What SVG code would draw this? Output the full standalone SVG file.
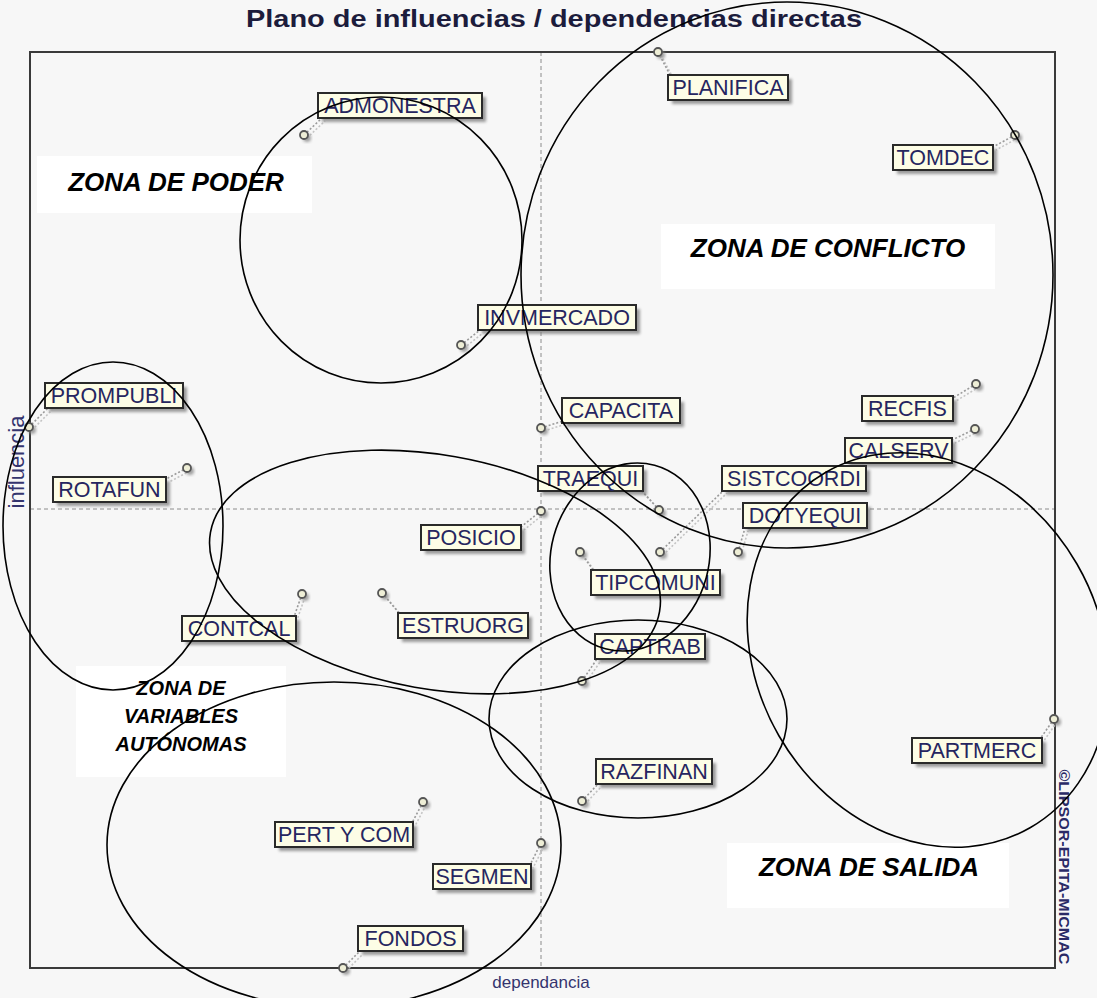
<svg xmlns="http://www.w3.org/2000/svg" width="1097" height="998" viewBox="0 0 1097 998">
  <defs>
    <filter id="soft" x="-20%" y="-20%" width="140%" height="140%">
      <feGaussianBlur stdDeviation="1.4"/>
    </filter>
  </defs>
  <style>
    .title { font-family: "Liberation Sans", Arial, sans-serif; font-size: 23px; font-weight: bold; fill: #1c1c3c; }
    .axis-lbl { font-family: "Liberation Sans", Arial, sans-serif; font-size: 17px; fill: #34346e; }
    .axis-lbl-v { font-family: "Liberation Sans", Arial, sans-serif; font-size: 22px; fill: #34346e; }
    .copy { font-family: "Liberation Sans", Arial, sans-serif; font-size: 15px; font-weight: bold; fill: #2a2a66; }
    .frame { fill: none; stroke: #3a3a3a; stroke-width: 2; }
    .axis { stroke: #8c8c8c; stroke-width: 1; stroke-dasharray: 4 3; }
    .zone-bg { fill: #ffffff; }
    .zone { font-family: "Liberation Sans", Arial, sans-serif; font-weight: bold; font-style: italic; fill: #000; text-anchor: middle; }
    .zone-big { font-size: 26px; }
    .zone-small { font-size: 20px; }
    .ring { fill: none; stroke: #000; stroke-width: 1.6; }
    .box { fill: #fdfde6; stroke: #2a2a2a; stroke-width: 2; }
    .box-sh { fill: #7a7a7a; opacity: 0.75; filter: url(#soft); }
    .lbl { font-family: "Liberation Sans", Arial, sans-serif; font-size: 21.5px; fill: #262660; text-anchor: middle; }
    .pt { fill: #eeeed6; stroke: #555; stroke-width: 1.8; }
    .pt-sh { fill: #8a8a8a; opacity: 0.8; filter: url(#soft); }
    .lead { stroke: #9a9a9a; stroke-width: 1.6; stroke-dasharray: 2 2; fill: none; }
    .lead-sh { stroke: #c4c4c4; stroke-width: 1.6; stroke-dasharray: 2 2; fill: none; }
  </style>

  <!-- page background -->
  <rect x="0" y="0" width="1097" height="998" fill="#f7f7f7"/>

  <!-- title and axis captions -->
  <text class="title" x="246" y="27" textLength="616" lengthAdjust="spacingAndGlyphs">Plano de influencias / dependencias directas</text>
  <text class="axis-lbl" x="541" y="988" text-anchor="middle">dependancia</text>
  <text class="axis-lbl-v" x="0" y="0" text-anchor="middle" transform="translate(24,462) rotate(-90)">influencia</text>
  <text class="copy" x="0" y="0" text-anchor="middle" transform="translate(1059,867) rotate(90)" textLength="195" lengthAdjust="spacingAndGlyphs">©LIPSOR-EPITA-MICMAC</text>

  <!-- plot frame and median axes -->
  <g id="plot">
    <line class="axis" x1="541" y1="52" x2="541" y2="968"/>
    <line class="axis" x1="30" y1="509" x2="1055" y2="509"/>
    <rect class="frame" x="30" y="52" width="1025" height="916"/>
  </g>

  <!-- zone captions -->
  <g id="zone-labels">
    <rect class="zone-bg" x="37" y="156" width="275" height="57"/>
    <text class="zone zone-big" x="176" y="191">ZONA DE PODER</text>
    <rect class="zone-bg" x="661" y="224" width="334" height="65"/>
    <text class="zone zone-big" x="828" y="257">ZONA DE CONFLICTO</text>
    <rect class="zone-bg" x="727" y="843" width="282" height="65"/>
    <text class="zone zone-big" x="869" y="876">ZONA DE SALIDA</text>
    <rect class="zone-bg" x="76" y="666" width="210" height="111"/>
    <text class="zone zone-small" x="181" y="695">ZONA DE</text>
    <text class="zone zone-small" x="181" y="723">VARIABLES</text>
    <text class="zone zone-small" x="181" y="751">AUTÓNOMAS</text>
  </g>

  <!-- dotted leaders from each variable's point to its tag -->
  <g id="connectors">
    <g class="lead-sh" transform="translate(3,3)">
      <line x1="658" y1="52" x2="670" y2="75"/>
      <line x1="304" y1="135" x2="322" y2="118"/>
      <line x1="1015" y1="135" x2="993" y2="147"/>
      <line x1="461" y1="345" x2="480" y2="330"/>
      <line x1="29" y1="427" x2="48" y2="408"/>
      <line x1="976" y1="384" x2="953" y2="398"/>
      <line x1="541" y1="428" x2="563" y2="421"/>
      <line x1="975" y1="429" x2="952" y2="440"/>
      <line x1="187" y1="468" x2="166" y2="479"/>
      <line x1="659" y1="510" x2="641" y2="490"/>
      <line x1="660" y1="552" x2="724" y2="490"/>
      <line x1="738" y1="552" x2="745" y2="528"/>
      <line x1="541" y1="511" x2="521" y2="527"/>
      <line x1="580" y1="552" x2="594" y2="571"/>
      <line x1="302" y1="594" x2="294" y2="617"/>
      <line x1="382" y1="593" x2="400" y2="614"/>
      <line x1="582" y1="681" x2="597" y2="659"/>
      <line x1="1054" y1="719" x2="1040" y2="739"/>
      <line x1="582" y1="801" x2="598" y2="784"/>
      <line x1="423" y1="802" x2="412" y2="823"/>
      <line x1="541" y1="843" x2="530" y2="865"/>
      <line x1="343" y1="968" x2="360" y2="951"/>
    </g>
    <g class="lead">
      <line x1="658" y1="52" x2="670" y2="75"/>
      <line x1="304" y1="135" x2="322" y2="118"/>
      <line x1="1015" y1="135" x2="993" y2="147"/>
      <line x1="461" y1="345" x2="480" y2="330"/>
      <line x1="29" y1="427" x2="48" y2="408"/>
      <line x1="976" y1="384" x2="953" y2="398"/>
      <line x1="541" y1="428" x2="563" y2="421"/>
      <line x1="975" y1="429" x2="952" y2="440"/>
      <line x1="187" y1="468" x2="166" y2="479"/>
      <line x1="659" y1="510" x2="641" y2="490"/>
      <line x1="660" y1="552" x2="724" y2="490"/>
      <line x1="738" y1="552" x2="745" y2="528"/>
      <line x1="541" y1="511" x2="521" y2="527"/>
      <line x1="580" y1="552" x2="594" y2="571"/>
      <line x1="302" y1="594" x2="294" y2="617"/>
      <line x1="382" y1="593" x2="400" y2="614"/>
      <line x1="582" y1="681" x2="597" y2="659"/>
      <line x1="1054" y1="719" x2="1040" y2="739"/>
      <line x1="582" y1="801" x2="598" y2="784"/>
      <line x1="423" y1="802" x2="412" y2="823"/>
      <line x1="541" y1="843" x2="530" y2="865"/>
      <line x1="343" y1="968" x2="360" y2="951"/>
    </g>
  </g>

  <!-- variables: point marker + tag -->
  <g id="PLANIFICA">
    <circle class="pt-sh" cx="661" cy="55" r="4"/><circle class="pt" cx="658" cy="52" r="4"/>
    <rect class="box-sh" x="672" y="79" width="120" height="25"/><rect class="box" x="668" y="75" width="120" height="25"/>
    <text class="lbl" x="728" y="95">PLANIFICA</text>
  </g>
  <g id="ADMONESTRA">
    <circle class="pt-sh" cx="307" cy="138" r="4"/><circle class="pt" cx="304" cy="135" r="4"/>
    <rect class="box-sh" x="322" y="97" width="164" height="25"/><rect class="box" x="318" y="93" width="164" height="25"/>
    <text class="lbl" x="400" y="113">ADMONESTRA</text>
  </g>
  <g id="TOMDEC">
    <circle class="pt-sh" cx="1018" cy="138" r="4"/><circle class="pt" cx="1015" cy="135" r="4"/>
    <rect class="box-sh" x="897" y="149" width="100" height="25"/><rect class="box" x="893" y="145" width="100" height="25"/>
    <text class="lbl" x="943" y="165">TOMDEC</text>
  </g>
  <g id="INVMERCADO">
    <circle class="pt-sh" cx="464" cy="348" r="4"/><circle class="pt" cx="461" cy="345" r="4"/>
    <rect class="box-sh" x="482" y="309" width="158" height="25"/><rect class="box" x="478" y="305" width="158" height="25"/>
    <text class="lbl" x="557" y="325">INVMERCADO</text>
  </g>
  <g id="PROMPUBLI">
    <circle class="pt-sh" cx="32" cy="430" r="4"/><circle class="pt" cx="29" cy="427" r="4"/>
    <rect class="box-sh" x="49" y="387" width="138" height="25"/><rect class="box" x="45" y="383" width="138" height="25"/>
    <text class="lbl" x="114" y="403">PROMPUBLI</text>
  </g>
  <g id="RECFIS">
    <circle class="pt-sh" cx="979" cy="387" r="4"/><circle class="pt" cx="976" cy="384" r="4"/>
    <rect class="box-sh" x="866" y="400" width="91" height="25"/><rect class="box" x="862" y="396" width="91" height="25"/>
    <text class="lbl" x="907.5" y="416">RECFIS</text>
  </g>
  <g id="CAPACITA">
    <circle class="pt-sh" cx="544" cy="431" r="4"/><circle class="pt" cx="541" cy="428" r="4"/>
    <rect class="box-sh" x="566" y="402" width="118" height="25"/><rect class="box" x="562" y="398" width="118" height="25"/>
    <text class="lbl" x="621" y="418">CAPACITA</text>
  </g>
  <g id="CALSERV">
    <circle class="pt-sh" cx="978" cy="432" r="4"/><circle class="pt" cx="975" cy="429" r="4"/>
    <rect class="box-sh" x="849" y="442" width="107" height="25"/><rect class="box" x="845" y="438" width="107" height="25"/>
    <text class="lbl" x="898.5" y="458">CALSERV</text>
  </g>
  <g id="ROTAFUN">
    <circle class="pt-sh" cx="190" cy="471" r="4"/><circle class="pt" cx="187" cy="468" r="4"/>
    <rect class="box-sh" x="57" y="481" width="113" height="25"/><rect class="box" x="53" y="477" width="113" height="25"/>
    <text class="lbl" x="109.5" y="497">ROTAFUN</text>
  </g>
  <g id="TRAEQUI">
    <circle class="pt-sh" cx="662" cy="513" r="4"/><circle class="pt" cx="659" cy="510" r="4"/>
    <rect class="box-sh" x="542" y="470" width="105" height="25"/><rect class="box" x="538" y="466" width="105" height="25"/>
    <text class="lbl" x="590.5" y="486">TRAEQUI</text>
  </g>
  <g id="SISTCOORDI">
    <circle class="pt-sh" cx="663" cy="555" r="4"/><circle class="pt" cx="660" cy="552" r="4"/>
    <rect class="box-sh" x="726" y="470" width="144" height="25"/><rect class="box" x="722" y="466" width="144" height="25"/>
    <text class="lbl" x="794" y="486">SISTCOORDI</text>
  </g>
  <g id="DOTYEQUI">
    <circle class="pt-sh" cx="741" cy="555" r="4"/><circle class="pt" cx="738" cy="552" r="4"/>
    <rect class="box-sh" x="747" y="507" width="124" height="25"/><rect class="box" x="743" y="503" width="124" height="25"/>
    <text class="lbl" x="805" y="523">DOTYEQUI</text>
  </g>
  <g id="POSICIO">
    <circle class="pt-sh" cx="544" cy="514" r="4"/><circle class="pt" cx="541" cy="511" r="4"/>
    <rect class="box-sh" x="425" y="529" width="100" height="25"/><rect class="box" x="421" y="525" width="100" height="25"/>
    <text class="lbl" x="471" y="545">POSICIO</text>
  </g>
  <g id="TIPCOMUNI">
    <circle class="pt-sh" cx="583" cy="555" r="4"/><circle class="pt" cx="580" cy="552" r="4"/>
    <rect class="box-sh" x="595" y="574" width="129" height="25"/><rect class="box" x="591" y="570" width="129" height="25"/>
    <text class="lbl" x="655.5" y="590">TIPCOMUNI</text>
  </g>
  <g id="CONTCAL">
    <circle class="pt-sh" cx="305" cy="597" r="4"/><circle class="pt" cx="302" cy="594" r="4"/>
    <rect class="box-sh" x="186" y="620" width="114" height="25"/><rect class="box" x="182" y="616" width="114" height="25"/>
    <text class="lbl" x="239" y="636">CONTCAL</text>
  </g>
  <g id="ESTRUORG">
    <circle class="pt-sh" cx="385" cy="596" r="4"/><circle class="pt" cx="382" cy="593" r="4"/>
    <rect class="box-sh" x="402" y="617" width="130" height="25"/><rect class="box" x="398" y="613" width="130" height="25"/>
    <text class="lbl" x="463" y="633">ESTRUORG</text>
  </g>
  <g id="CAPTRAB">
    <circle class="pt-sh" cx="585" cy="684" r="4"/><circle class="pt" cx="582" cy="681" r="4"/>
    <rect class="box-sh" x="599" y="638" width="110" height="25"/><rect class="box" x="595" y="634" width="110" height="25"/>
    <text class="lbl" x="650" y="654">CAPTRAB</text>
  </g>
  <g id="PARTMERC">
    <circle class="pt-sh" cx="1057" cy="722" r="4"/><circle class="pt" cx="1054" cy="719" r="4"/>
    <rect class="box-sh" x="916" y="742" width="130" height="25"/><rect class="box" x="912" y="738" width="130" height="25"/>
    <text class="lbl" x="977" y="758">PARTMERC</text>
  </g>
  <g id="RAZFINAN">
    <circle class="pt-sh" cx="585" cy="804" r="4"/><circle class="pt" cx="582" cy="801" r="4"/>
    <rect class="box-sh" x="600" y="763" width="116" height="25"/><rect class="box" x="596" y="759" width="116" height="25"/>
    <text class="lbl" x="654" y="779">RAZFINAN</text>
  </g>
  <g id="PERT_Y_COM">
    <circle class="pt-sh" cx="426" cy="805" r="4"/><circle class="pt" cx="423" cy="802" r="4"/>
    <rect class="box-sh" x="279" y="826" width="138" height="25"/><rect class="box" x="275" y="822" width="138" height="25"/>
    <text class="lbl" x="344" y="842">PERT Y COM</text>
  </g>
  <g id="SEGMEN">
    <circle class="pt-sh" cx="544" cy="846" r="4"/><circle class="pt" cx="541" cy="843" r="4"/>
    <rect class="box-sh" x="437" y="868" width="98" height="25"/><rect class="box" x="433" y="864" width="98" height="25"/>
    <text class="lbl" x="482" y="884">SEGMEN</text>
  </g>
  <g id="FONDOS">
    <circle class="pt-sh" cx="346" cy="971" r="4"/><circle class="pt" cx="343" cy="968" r="4"/>
    <rect class="box-sh" x="362" y="930" width="105" height="25"/><rect class="box" x="358" y="926" width="105" height="25"/>
    <text class="lbl" x="410.5" y="946">FONDOS</text>
  </g>

  <!-- hand-drawn grouping rings -->
  <g id="zones">
    <ellipse class="ring" cx="381" cy="240" rx="141" ry="143"/>
    <ellipse class="ring" cx="787" cy="275" rx="266" ry="273"/>
    <ellipse class="ring" cx="113" cy="526" rx="110" ry="164"/>
    <ellipse class="ring" cx="435" cy="572" rx="228" ry="117" transform="rotate(10 435 572)"/>
    <ellipse class="ring" cx="630" cy="557" rx="79" ry="95" transform="rotate(15 630 557)"/>
    <ellipse class="ring" cx="638" cy="719" rx="149" ry="99"/>
    <ellipse class="ring" cx="928" cy="650" rx="172" ry="205" transform="rotate(-30 928 650)"/>
    <ellipse class="ring" cx="334" cy="845" rx="227" ry="163"/>
  </g>
</svg>
